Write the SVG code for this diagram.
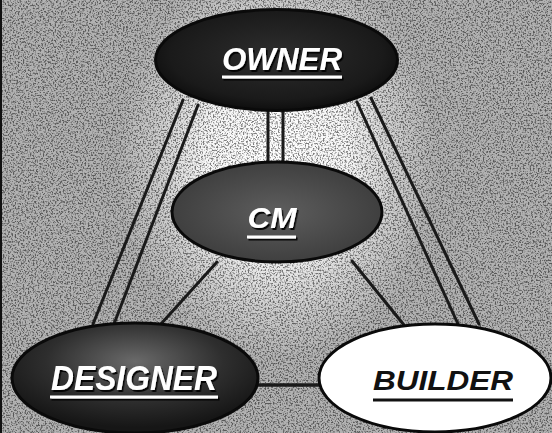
<svg xmlns="http://www.w3.org/2000/svg" width="552" height="433" viewBox="0 0 552 433">
<defs>
<radialGradient id="glow" cx="277" cy="160" r="200" gradientUnits="userSpaceOnUse" gradientTransform="translate(277 160) scale(0.8 1) translate(-277 -160)">
<stop offset="0" stop-color="#ffffff"/>
<stop offset="0.45" stop-color="#f6f6f6"/>
<stop offset="0.75" stop-color="#cdcdcd"/>
<stop offset="1" stop-color="#b2b2b2"/>
</radialGradient>
<radialGradient id="darkFill" cx="0.5" cy="0.45" r="0.55">
<stop offset="0" stop-color="#2e2e2e"/>
<stop offset="0.8" stop-color="#1a1a1a"/>
<stop offset="1" stop-color="#0e0e0e"/>
</radialGradient>
<radialGradient id="cmFill" cx="0.5" cy="0.5" r="0.55">
<stop offset="0" stop-color="#5e5e5e"/>
<stop offset="1" stop-color="#3c3c3c"/>
</radialGradient>
<radialGradient id="desFill" cx="0.5" cy="0.35" r="0.6">
<stop offset="0" stop-color="#6a6a6a"/>
<stop offset="0.6" stop-color="#2e2e2e"/>
<stop offset="1" stop-color="#161616"/>
</radialGradient>
<filter id="noise" x="0" y="0" width="100%" height="100%">
<feTurbulence type="fractalNoise" baseFrequency="0.6" numOctaves="2" seed="3" result="t"/>
<feColorMatrix in="t" type="matrix" values="0 0 0 0 0  0 0 0 0 0  0 0 0 0 0  0 0 0 -4 2.15" result="n"/>
<feComposite in="n" in2="SourceGraphic" operator="in"/>
</filter>
<filter id="shadow" x="-10%" y="-20%" width="130%" height="150%">
<feDropShadow dx="1.5" dy="2" stdDeviation="0.6" flood-color="#000" flood-opacity="0.9"/>
</filter>
</defs>
<style>
.lbl{font-family:"Liberation Sans",Arial,sans-serif;font-weight:bold;font-style:italic;text-anchor:middle}
.wt{fill:#ffffff}
.bk{fill:#111111}
.conn line{stroke:#1a1a1a;stroke-width:3;stroke-linecap:round}
.node ellipse{stroke:#0a0a0a;stroke-width:3}
</style>
<rect width="552" height="433" fill="url(#glow)"/>
<rect width="552" height="433" fill="#000" filter="url(#noise)" opacity="0.5"/>
<rect x="0" y="0" width="2" height="433" fill="#111"/>
<g id="connectors" class="conn">
<line x1="268" y1="110" x2="268" y2="163"/>
<line x1="283" y1="110" x2="283" y2="163"/>
<line x1="183" y1="100" x2="93" y2="324"/>
<line x1="198" y1="105" x2="114" y2="324"/>
<line x1="357" y1="102" x2="458" y2="324"/>
<line x1="371" y1="98" x2="479" y2="324"/>
<line x1="217" y1="262" x2="160" y2="325"/>
<line x1="352" y1="261" x2="404" y2="325"/>
<line x1="257" y1="385" x2="319" y2="385" style="stroke-width:3.5"/>
</g>
<g id="owner" class="node">
<ellipse cx="276.5" cy="60" rx="121" ry="50.5" fill="url(#darkFill)"/>
<g filter="url(#shadow)">
<text class="lbl wt" x="282" y="70" font-size="31" textLength="120" lengthAdjust="spacingAndGlyphs">OWNER</text>
<rect class="wt" x="222" y="75.5" width="120" height="3"/>
</g>
</g>
<g id="cm" class="node">
<ellipse cx="277" cy="212" rx="105" ry="50" fill="url(#cmFill)"/>
<g filter="url(#shadow)">
<text class="lbl wt" x="272" y="228" font-size="30" textLength="49" lengthAdjust="spacingAndGlyphs">CM</text>
<rect class="wt" x="247" y="235.5" width="49" height="3"/>
</g>
</g>
<g id="designer" class="node">
<ellipse cx="135" cy="378" rx="123" ry="55" fill="url(#desFill)"/>
<g filter="url(#shadow)">
<text class="lbl wt" x="134" y="390" font-size="35" textLength="166" lengthAdjust="spacingAndGlyphs">DESIGNER</text>
<rect class="wt" x="50" y="395.5" width="168" height="3"/>
</g>
</g>
<g id="builder" class="node">
<ellipse cx="435" cy="378" rx="116" ry="54" fill="#ffffff"/>
<text class="lbl bk" x="443" y="390" font-size="27" textLength="140" lengthAdjust="spacingAndGlyphs">BUILDER</text>
<rect class="bk" x="373" y="398.5" width="140" height="3"/>
</g>
</svg>
